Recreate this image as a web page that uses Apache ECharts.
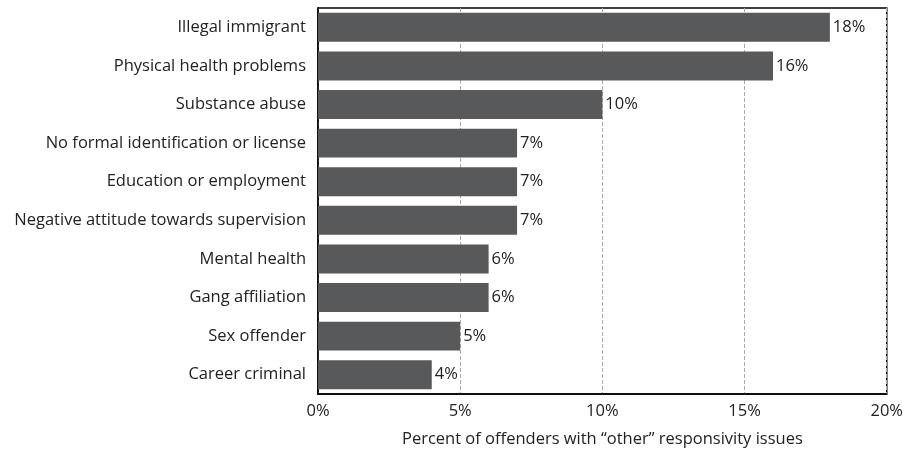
<!DOCTYPE html>
<html><head><meta charset="utf-8">
<script src="https://cdn.jsdelivr.net/npm/echarts@6/dist/echarts.min.js"></script>
<style>html,body{margin:0;padding:0;background:#fff;overflow:hidden}#c{width:906px;height:454px}</style>
</head><body><div id="c"></div>
<script>
const categories = ["Illegal immigrant","Physical health problems","Substance abuse","No formal identification or license","Education or employment","Negative attitude towards supervision","Mental health","Gang affiliation","Sex offender","Career criminal"];
const values = [18,16,10,7,7,7,6,6,5,4];
const xTicks = [0,5,10,15,20];
const axisTitle = "Percent of offenders with \u201cother\u201d responsivity issues";

const font = "'Open Sans', sans-serif";
const fs = 16.5;
const chart = echarts.init(document.getElementById('c'), null, {renderer:'canvas'});
chart.setOption({
  backgroundColor:'#fff',
  animation:false,
  grid:{left:318,right:14,top:8,bottom:60,show:true,borderColor:'#000',borderWidth:1.5,backgroundColor:'transparent'},
  xAxis:{type:'value',min:xTicks[0],max:xTicks[xTicks.length-1],interval:5,
    axisLabel:{formatter:'{value}%',color:'#222',fontSize:fs,fontFamily:font,margin:9},
    axisLine:{show:true,lineStyle:{color:'#000',width:1.5}},axisTick:{show:false},
    splitLine:{show:true,lineStyle:{type:'dashed',color:'#aaa',width:1}},
    name:axisTitle,nameLocation:'middle',nameGap:37,
    nameTextStyle:{color:'#222',fontSize:fs,fontFamily:font}},
  yAxis:{type:'category',data:categories,inverse:true,
    axisLabel:{color:'#222',fontSize:fs,fontFamily:font,margin:12},
    axisLine:{show:true,lineStyle:{color:'#000',width:1.5}},axisTick:{show:false}},
  series:[{type:'bar',data:values,barWidth:'75%',itemStyle:{color:'#58595b'},
    label:{show:true,position:'right',distance:3,formatter:'{c}%',color:'#222',fontSize:fs,fontFamily:font}}]
});
</script></body></html>
